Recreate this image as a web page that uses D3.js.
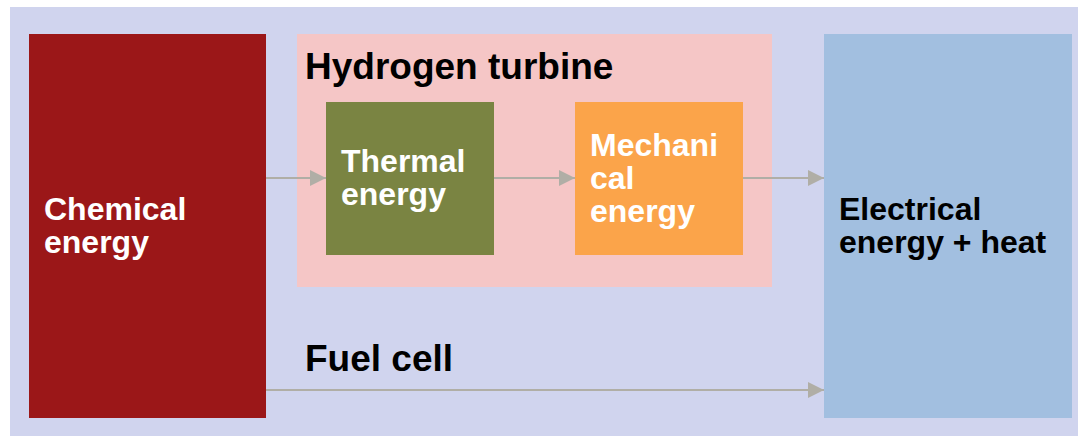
<!DOCTYPE html>
<html>
<head>
<meta charset="utf-8">
<script src="https://cdn.jsdelivr.net/npm/d3@7"></script>
<style>
  body { margin: 0; background: #fff; }
  text { font-family: "Liberation Sans", Arial, sans-serif; font-weight: bold; }
</style>
</head>
<body>
<svg id="diagram"></svg>
<script>
// energy conversion paths
const boxIds = ["chemical", "turbine", "thermal", "mechanical", "electrical"];
const boxLabels = [
  ["Chemical", "energy"],
  [],
  ["Thermal", "energy"],
  ["Mechani", "cal", "energy"],
  ["Electrical", "energy + heat"]
];
const pathNames = ["Hydrogen turbine", "Fuel cell"];
const links = [
  ["chemical", "thermal"],
  ["thermal", "mechanical"],
  ["mechanical", "electrical"],
  ["chemical", "electrical"]
];

const width = 1079, height = 436;

// layout (pixels)
const layout = {
  chemical:   { x: 29,  y: 34,  w: 237, h: 384, fill: "#9b1718", text: "#fff" },
  turbine:    { x: 297, y: 34,  w: 475, h: 253, fill: "#f5c6c6", text: "#000" },
  thermal:    { x: 326, y: 102, w: 168, h: 153, fill: "#7a8442", text: "#fff" },
  mechanical: { x: 575, y: 102, w: 168, h: 153, fill: "#fba44a", text: "#fff" },
  electrical: { x: 824, y: 34,  w: 248, h: 384, fill: "#a2bfe0", text: "#000" }
};
const linkY = [178, 178, 178, 390];
const lineH = 33;

const svg = d3.select("#diagram")
  .attr("width", width)
  .attr("height", height);

svg.append("defs").append("marker")
  .attr("id", "head")
  .attr("viewBox", "0 0 16 16")
  .attr("refX", 16).attr("refY", 8)
  .attr("markerWidth", 16).attr("markerHeight", 16)
  .attr("markerUnits", "userSpaceOnUse")
  .attr("orient", "auto")
  .append("path")
  .attr("d", "M0,0L16,8L0,16Z")
  .attr("fill", "#b0aea6");

// panel
svg.append("rect")
  .attr("x", 10).attr("y", 7)
  .attr("width", 1068).attr("height", 429)
  .attr("fill", "#d0d4ee");

const boxes = boxIds.map((id, i) => ({ id, lines: boxLabels[i], ...layout[id] }));

svg.selectAll(".box")
  .data(boxes)
  .enter().append("rect")
  .attr("class", "box")
  .attr("x", d => d.x)
  .attr("y", d => d.y)
  .attr("width", d => d.w)
  .attr("height", d => d.h)
  .attr("fill", d => d.fill);

// arrows
svg.selectAll(".link")
  .data(links)
  .enter().append("line")
  .attr("class", "link")
  .attr("x1", d => layout[d[0]].x + layout[d[0]].w)
  .attr("x2", d => layout[d[1]].x)
  .attr("y1", (d, i) => linkY[i])
  .attr("y2", (d, i) => linkY[i])
  .attr("stroke", "#b0aea6")
  .attr("stroke-width", 2)
  .attr("marker-end", "url(#head)");

// box labels, centred vertically
const label = svg.selectAll(".label")
  .data(boxes.filter(d => d.lines.length))
  .enter().append("text")
  .attr("class", "label")
  .attr("font-size", 32)
  .attr("fill", d => d.text);

label.selectAll("tspan")
  .data(d => d.lines.map((t, j) => ({ t, j, box: d })))
  .enter().append("tspan")
  .attr("x", d => d.box.x + 15)
  .attr("y", d => {
    const n = d.box.lines.length;
    const mid = d.box.y + d.box.h / 2;
    return mid + (d.j - (n - 1) / 2) * lineH + 10;
  })
  .text(d => d.t);

// path names
svg.selectAll(".pathname")
  .data(pathNames)
  .enter().append("text")
  .attr("class", "pathname")
  .attr("x", 305)
  .attr("y", (d, i) => [79, 371][i])
  .attr("font-size", 37)
  .attr("fill", "#000")
  .text(d => d);
</script>
</body>
</html>
